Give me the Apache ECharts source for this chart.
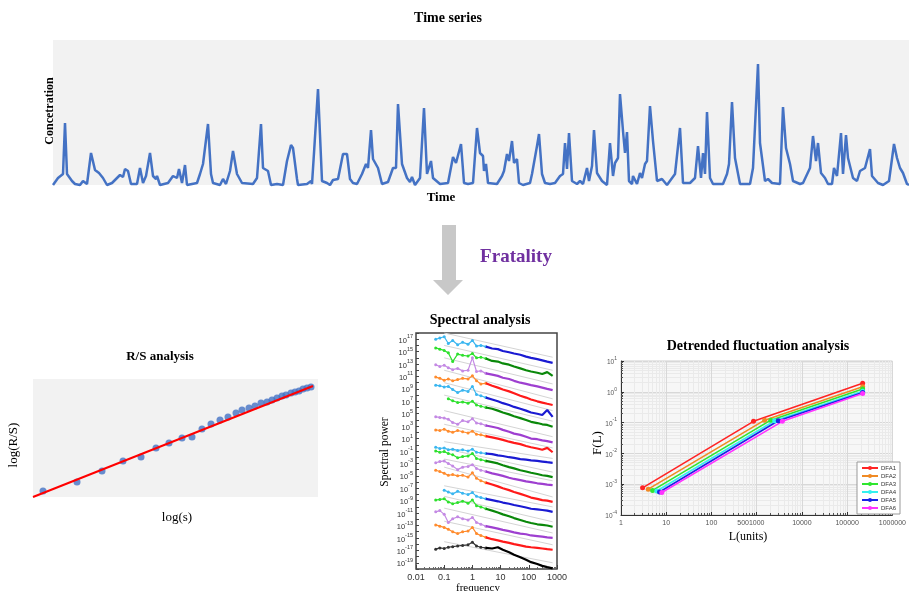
<!DOCTYPE html>
<html>
<head>
<meta charset="utf-8">
<script src="https://cdn.jsdelivr.net/npm/echarts@6/dist/echarts.min.js"></script>
<style>
  html, body { margin: 0; padding: 0; background: #fff; }
  #chart { width: 909px; height: 591px; }
</style>
</head>
<body>
<div id="chart"></div>
<script>
// ---- time series (time step, concentration) ----
const timeSteps = [
  0,5,10,12,14,16,19,22,27,30,
  34,38,40,42,46,50,52,54,59,61,
  67,70,72,75,78,84,87,90,93,95,
  97,100,103,104,107,115,120,124,126,129,
  132,134,144,147,150,155,158,160,167,170,
  173,177,180,184,189,200,204,208,210,215,
  218,224,230,234,238,240,244,245,254,258,
  259,261,265,269,274,277,280,282,285,290,
  294,297,300,304,309,310,313,315,318,320,
  325,329,335,340,343,345,349,354,357,359,
  362,367,371,374,378,380,387,395,400,403,
  408,411,415,420,424,427,430,431,433,435,
  444,449,451,454,456,459,461,464,466,470,
  477,479,481,484,486,489,492,497,502,504,
  507,510,512,514,516,519,524,527,530,534,
  536,539,541,544,549,554,557,560,562,565,
  567,570,572,574,576,579,580,584,587,589,
  592,594,597,600,604,609,614,622,627,630,
  637,642,645,648,650,652,654,657,660,670,
  674,676,679,682,684,687,697,700,702,705,
  707,709,712,715,719,727,730,733,737,740,
  747,750,757,760,763,765,768,772,775,779,
  781,784,788,790,793,795,800,804,807,812,
  817,819,825,830,836,841,844,847,850,854,
  856
];
const concentration = [
  0,7,11,62,11,10,4,1,0,4,
  1,32,31,15,12,7,6,0,2,0,
  10,8,16,14,1,1,17,2,9,7,
  32,9,6,9,0,2,9,7,16,2,
  20,0,2,11,21,61,11,2,0,6,
  1,14,34,11,2,1,7,61,17,14,
  0,1,0,24,40,37,6,0,1,4,
  1,32,96,4,2,0,5,3,6,31,
  31,6,2,1,11,9,21,17,55,26,
  17,1,3,17,17,81,21,7,3,8,
  0,7,77,11,24,7,1,2,28,22,
  41,2,1,2,57,32,29,14,21,2,
  1,9,14,31,24,44,22,26,2,0,
  2,11,9,39,51,11,2,1,2,0,
  9,11,42,16,52,4,1,4,1,17,
  4,19,55,12,4,0,42,9,22,27,
  91,54,32,53,4,1,9,1,12,7,
  21,24,79,44,4,6,0,11,57,2,
  2,7,39,7,32,11,73,7,1,1,
  11,21,83,27,27,1,1,17,19,121,
  42,41,4,6,2,1,78,37,21,4,
  1,2,17,49,24,42,12,7,1,1,
  17,9,52,11,50,27,7,4,14,17,
  36,9,2,0,4,41,27,17,12,1,
  0
];

// ---- R/S analysis ----
const rsLogS  = [1.10,1.44,1.69,1.90,2.08,2.23,2.36,2.49,2.59,2.69,2.78,2.87,2.95,3.03,3.09,3.16,3.22,3.28,3.34,3.39,3.44,3.49,3.53,3.58,3.62,3.66,3.70,3.74,3.78];
const rsLogRS = [0.56,0.65,0.76,0.86,0.90,0.99,1.04,1.09,1.10,1.18,1.23,1.27,1.30,1.34,1.37,1.39,1.41,1.44,1.45,1.47,1.49,1.51,1.52,1.54,1.55,1.56,1.58,1.59,1.60];
const rsFitS  = [1.0, 3.8];
const rsFitRS = [0.50, 1.61];

// ---- spectral analysis (log10 power at each frequency) ----
const specFreq = [0.05,0.07,0.1,0.14,0.2,0.3,0.45,0.7,1,1.4,2,3,5,8,12,20,30,50,80,120,200,300,450,700];
const spec1  = [17.0,17.2,17.4,16.3,16.8,16.1,16.5,16.2,16.8,15.9,16.0,15.8,15.5,15.4,15.1,14.9,14.7,14.5,14.2,14.0,13.8,13.6,13.4,13.2];
const spec2  = [15.6,15.4,15.2,14.8,13.4,14.6,14.4,14.3,14.7,14.0,14.1,13.9,13.5,13.4,13.1,12.9,12.6,12.3,12.0,11.8,11.6,11.4,11.7,11.1];
const spec3  = [12.9,12.6,12.8,12.4,12.1,12.3,11.9,12.0,14.0,11.8,11.9,11.5,11.3,11.1,10.8,10.6,10.3,10.0,9.8,9.6,9.4,9.2,9.0,8.8];
const spec4  = [10.9,10.7,10.4,10.6,10.3,10.5,10.7,10.6,11.1,10.3,9.8,9.9,9.5,9.2,8.9,8.6,8.3,7.9,7.6,7.3,7.0,6.8,6.6,6.4];
const spec5  = [9.6,9.5,9.3,9.4,8.9,8.4,8.8,8.6,9.4,8.1,7.9,7.6,7.3,7.0,6.7,6.4,6.1,5.8,5.5,5.2,5.0,4.8,5.6,4.5];
const spec6  = [null,null,null,7.4,7.1,6.8,6.9,6.7,7.0,6.4,6.2,6.0,5.8,5.5,5.2,4.9,4.6,4.3,4.0,3.7,3.5,3.3,3.2,2.9];
const spec7  = [4.5,4.4,4.3,4.1,3.6,3.3,3.9,3.7,4.2,3.5,3.4,3.1,2.9,2.7,2.4,2.1,1.8,1.6,1.3,1.0,0.9,0.7,0.6,0.4];
const spec8  = [2.4,2.3,2.5,2.2,2.0,2.3,2.1,1.9,2.2,1.7,1.6,1.4,1.2,1.0,0.8,0.5,0.3,0.1,-0.2,-0.4,-0.6,-0.8,-0.5,-1.2];
const spec9  = [-0.4,-0.6,-0.5,-0.8,-0.7,-0.9,-0.8,-1.0,-0.7,-1.2,-1.3,-1.4,-1.5,-1.7,-1.8,-2.0,-2.1,-2.3,-2.4,-2.5,-2.6,-2.7,-2.8,-2.9];
const spec10 = [-1.0,-1.2,-1.1,-1.4,-1.6,-2.1,-1.9,-1.8,-1.4,-2.2,-2.4,-2.6,-2.8,-3.0,-3.3,-3.6,-3.8,-4.1,-4.3,-4.5,-4.7,-4.9,-5.0,-5.2];
const spec11 = [-2.9,-2.7,-2.6,-3.0,-3.4,-4.0,-3.6,-3.5,-3.2,-3.8,-4.1,-4.3,-4.6,-4.8,-5.0,-5.3,-5.5,-5.7,-5.9,-6.0,-6.2,-6.3,-6.4,-6.5];
const spec12 = [-4.1,-4.3,-4.6,-4.9,-4.8,-5.0,-4.9,-5.2,-4.5,-5.4,-5.8,-6.1,-6.4,-6.7,-7.0,-7.3,-7.6,-7.9,-8.2,-8.5,-8.7,-8.9,-9.0,-9.2];
const spec13 = [null,null,-7.3,-7.6,-7.9,-7.5,-7.8,-8.0,-7.7,-8.3,-8.5,-8.7,-8.9,-9.1,-9.3,-9.5,-9.7,-9.9,-10.1,-10.3,-10.4,-10.5,-10.6,-10.8];
const spec14 = [-8.9,-8.8,-8.7,-9.2,-9.5,-9.3,-9.1,-9.4,-8.9,-9.8,-10.0,-10.3,-10.6,-10.9,-11.2,-11.5,-11.8,-12.1,-12.4,-12.6,-12.8,-12.9,-13.0,-13.2];
const spec15 = [-10.8,-10.6,-11.2,-12.5,-11.9,-11.6,-11.9,-12.1,-11.7,-12.5,-12.8,-13.1,-13.3,-13.5,-13.7,-13.9,-14.1,-14.3,-14.4,-14.6,-14.7,-14.8,-14.9,-15.0];
const spec16 = [-12.9,-13.1,-13.3,-13.6,-14.0,-14.3,-14.0,-13.9,-13.3,-14.3,-14.6,-14.9,-15.2,-15.4,-15.6,-15.8,-16.0,-16.2,-16.4,-16.5,-16.6,-16.7,-16.8,-16.9];
const spec17 = [-16.8,-16.6,-16.7,-16.5,-16.4,-16.3,-16.2,-16.1,-15.7,-16.3,-16.5,-16.6,-16.7,-16.5,-16.9,-17.3,-17.7,-18.1,-18.5,-18.9,-19.2,-19.5,-19.7,-19.9];
const specCurves = [spec1,spec2,spec3,spec4,spec5,spec6,spec7,spec8,spec9,spec10,spec11,spec12,spec13,spec14,spec15,spec16,spec17];
// grey reference lines: log10 power at f = 0.1 and f = 700
const refFreq = [0.1, 700];
const refStart = [18.0,16.0,14.0,12.0,10.0,8.0,5.5,3.3,0.5,-0.6,-2.3,-3.6,-6.6,-8.3,-10.2,-12.3,-15.6];
const refEnd   = [14.1,12.0,9.8,7.4,5.5,3.8,1.3,-0.5,-2.2,-4.4,-5.8,-8.4,-10.0,-12.4,-14.2,-16.1,-19.0];

// ---- detrended fluctuation analysis ----
const dfaNames = ['DFA1','DFA2','DFA3','DFA4','DFA5','DFA6'];
const dfaL = [[3,850,220000],[4,1500,220000],[5,2050,220000],[6.2,2500,220000],[7.1,3000,220000],[8,3700,220000]];
const dfaF = [[7.6e-4,0.11,1.9],[6.9e-4,0.12,1.45],[6.3e-4,0.12,1.23],[6.0e-4,0.115,1.05],[5.6e-4,0.115,0.95],[5.4e-4,0.11,0.88]];
const dfaColors = ['#ff2424','#f08a24','#2ee62e','#33f0f0','#1a22e6','#ff33ff'];

const serif = '"Liberation Serif", "Times New Roman", serif';
const sans = '"Liberation Sans", Arial, sans-serif';

const lightColors = ['#3ab6f0','#2ee02e','#c48ae4','#ff8c2e'];
const darkColors  = ['#1a1ad2','#0a880a','#9e3fd0','#ff1a1a'];

function supLabel(e) {
  return '{b|10}{s|' + e + '}';
}

const series = [];

series.push({
  type: 'line', xAxisIndex: 0, yAxisIndex: 0,
  data: timeSteps.map((t, i) => [t, concentration[i]]),
  showSymbol: false, clip: false,
  lineStyle: { color: '#4472c4', width: 2.5 }
});

series.push({
  type: 'scatter', xAxisIndex: 1, yAxisIndex: 1,
  data: rsLogS.map((s, i) => [s, rsLogRS[i]]),
  symbolSize: 7, itemStyle: { color: '#4472c4' }
});
series.push({
  type: 'line', xAxisIndex: 1, yAxisIndex: 1,
  data: rsFitS.map((s, i) => [s, rsFitRS[i]]),
  showSymbol: false, z: 5,
  lineStyle: { color: '#ff0000', width: 2 }
});

refStart.forEach((p, i) => {
  series.push({
    type: 'line', xAxisIndex: 2, yAxisIndex: 2,
    data: [[refFreq[0], p], [refFreq[1], refEnd[i]]],
    showSymbol: false, silent: true, z: 1,
    lineStyle: { color: '#d4d4d4', width: 1 }
  });
});

specCurves.forEach((c, i) => {
  const last = i === specCurves.length - 1;
  const light = last ? '#333' : lightColors[i % 4];
  const dark = last ? '#000' : darkColors[i % 4];
  const pts = specFreq.map((f, k) => [f, c[k]]);
  series.push({
    type: 'line', xAxisIndex: 2, yAxisIndex: 2,
    data: pts.slice(0, 12).filter(p => p[1] !== null),
    symbol: 'circle', symbolSize: 3, showSymbol: true, z: 2,
    itemStyle: { color: light },
    lineStyle: { color: light, width: 1.2 }
  });
  series.push({
    type: 'line', xAxisIndex: 2, yAxisIndex: 2,
    data: pts.slice(11),
    showSymbol: false, z: 3,
    lineStyle: { color: dark, width: 2.2 }
  });
});

dfaNames.forEach((n, i) => {
  series.push({
    name: n, type: 'line', xAxisIndex: 3, yAxisIndex: 3,
    data: dfaL[i].map((l, k) => [l, dfaF[i][k]]),
    symbol: 'circle', symbolSize: 5,
    itemStyle: { color: dfaColors[i] },
    lineStyle: { color: dfaColors[i], width: 1.6 }
  });
});

const supRich = {
  b: { fontSize: 7.5, fontFamily: sans, color: '#333', lineHeight: 11, verticalAlign: 'bottom' },
  s: { fontSize: 5.5, fontFamily: sans, color: '#333', lineHeight: 11, verticalAlign: 'top' }
};

function txt(text, x, y, font, opts) {
  opts = opts || {};
  return {
    type: 'text', x: x, y: y, rotation: opts.rot || 0, z: 100,
    style: {
      text: text, x: 0, y: 0, font: font, fill: opts.fill || '#000',
      textAlign: 'center', align: 'center',
      textVerticalAlign: 'middle', verticalAlign: 'middle'
    }
  };
}

const chart = echarts.init(document.getElementById('chart'));
chart.setOption({
  animation: false,
  backgroundColor: '#fff',
  grid: [
    { left: 53, top: 40, width: 856, height: 145, show: true, backgroundColor: '#f2f2f2', borderWidth: 0 },
    { left: 33, top: 379, width: 285, height: 118, show: true, backgroundColor: '#f2f2f2', borderWidth: 0 },
    { left: 416, top: 333, width: 141, height: 236, show: true, backgroundColor: '#fff', borderColor: '#444', borderWidth: 1.5 },
    { left: 621, top: 361, width: 281, height: 154, show: true, backgroundColor: '#f7f7f7', borderColor: '#cfcfcf', borderWidth: 1 }
  ],
  xAxis: [
    { gridIndex: 0, type: 'value', min: 0, max: 856, show: false },
    { gridIndex: 1, type: 'value', min: 1.0, max: 3.85, show: false },
    {
      gridIndex: 2, type: 'log', logBase: 10, min: 0.01, max: 1000, position: 'bottom',
      axisLine: { show: false, onZero: false },
      axisTick: { show: true, inside: true, length: 4, lineStyle: { color: '#444' } },
      minorTick: { show: true, splitNumber: 9, length: 2, lineStyle: { color: '#666' } },
      splitLine: { show: false },
      axisLabel: {
        fontSize: 9, fontFamily: sans, color: '#333', margin: 4,
        formatter: v => String(+v.toPrecision(2))
      }
    },
    {
      gridIndex: 3, type: 'log', logBase: 10, min: 1, max: 1000000, position: 'bottom',
      axisLine: { show: true, onZero: false, lineStyle: { color: '#333', width: 1 } },
      axisTick: { show: true, inside: true, length: 3, lineStyle: { color: '#333' } },
      minorTick: { show: true, splitNumber: 9, length: 2, lineStyle: { color: '#555' } },
      splitLine: { show: true, lineStyle: { color: '#d8d8d8', width: 1 } },
      minorSplitLine: { show: true, lineStyle: { color: '#eaeaea', width: 1 } },
      axisLabel: {
        fontSize: 7, fontFamily: sans, color: '#555', margin: 5,
        customValues: [1, 10, 100, 500, 1000, 10000, 100000, 1000000],
        formatter: v => String(Math.round(v))
      }
    }
  ],
  yAxis: [
    { gridIndex: 0, type: 'value', min: 0, max: 145, show: false },
    { gridIndex: 1, type: 'value', min: 0.5, max: 1.68, show: false },
    {
      gridIndex: 2, type: 'value', min: -20, max: 18, interval: 1,
      axisLine: { show: false, onZero: false },
      axisTick: { show: true, inside: true, length: 3, lineStyle: { color: '#444' } },
      splitLine: { show: false },
      axisLabel: {
        margin: 3,
        formatter: v => (Math.abs(v) % 2 === 1 ? supLabel(v) : ''),
        rich: supRich
      }
    },
    {
      gridIndex: 3, type: 'log', logBase: 10, min: 0.0001, max: 10,
      axisLine: { show: true, onZero: false, lineStyle: { color: '#333', width: 1 } },
      axisTick: { show: true, inside: true, length: 3, lineStyle: { color: '#333' } },
      minorTick: { show: true, splitNumber: 9, length: 2, lineStyle: { color: '#555' } },
      splitLine: { show: true, lineStyle: { color: '#d8d8d8', width: 1 } },
      minorSplitLine: { show: true, lineStyle: { color: '#eaeaea', width: 1 } },
      axisLabel: {
        margin: 4,
        formatter: v => supLabel(Math.round(Math.log10(v))),
        rich: {
          b: { fontSize: 6.5, fontFamily: sans, color: '#555', lineHeight: 10, verticalAlign: 'bottom' },
          s: { fontSize: 5, fontFamily: sans, color: '#555', lineHeight: 10, verticalAlign: 'top' }
        }
      }
    }
  ],
  legend: {
    data: dfaNames,
    orient: 'vertical', left: 857, top: 462,
    itemWidth: 16, itemHeight: 5, itemGap: 2,
    padding: [3, 4, 3, 4],
    backgroundColor: '#fff', borderColor: '#999', borderWidth: 1, borderRadius: 0,
    textStyle: { fontSize: 6, fontFamily: sans, color: '#333', padding: [0, 0, 0, -2] }
  },
  graphic: [
    txt('Time series', 448, 18, 'bold 14px ' + serif),
    txt('Concetration', 50, 111, 'bold 12px ' + serif, { rot: Math.PI / 2 }),
    txt('Time', 441, 198, 'bold 13px ' + serif),
    {
      type: 'polygon', z: 100,
      shape: { points: [[442,225],[456,225],[456,280],[463,280],[448,295],[433,280],[442,280]] },
      style: { fill: '#c8c8c8' }
    },
    txt('Fratality', 516, 257, 'bold 19px ' + serif, { fill: '#7030a0' }),
    txt('R/S analysis', 160, 357, 'bold 13px ' + serif),
    txt('log(R/S)', 14, 445, '13px ' + serif, { rot: Math.PI / 2 }),
    txt('log(s)', 177, 518, '13px ' + serif),
    txt('Spectral analysis', 480, 320, 'bold 14px ' + serif),
    txt('Spectral power', 385, 452, '11.5px ' + serif, { rot: Math.PI / 2 }),
    txt('frequency', 478, 588, '11px ' + serif),
    txt('Detrended fluctuation analysis', 758, 346, 'bold 14px ' + serif),
    txt('F(L)', 598, 443, '13px ' + serif, { rot: Math.PI / 2 }),
    txt('L(units)', 748, 537, '12px ' + serif)
  ],
  series: series
});
</script>
</body>
</html>
